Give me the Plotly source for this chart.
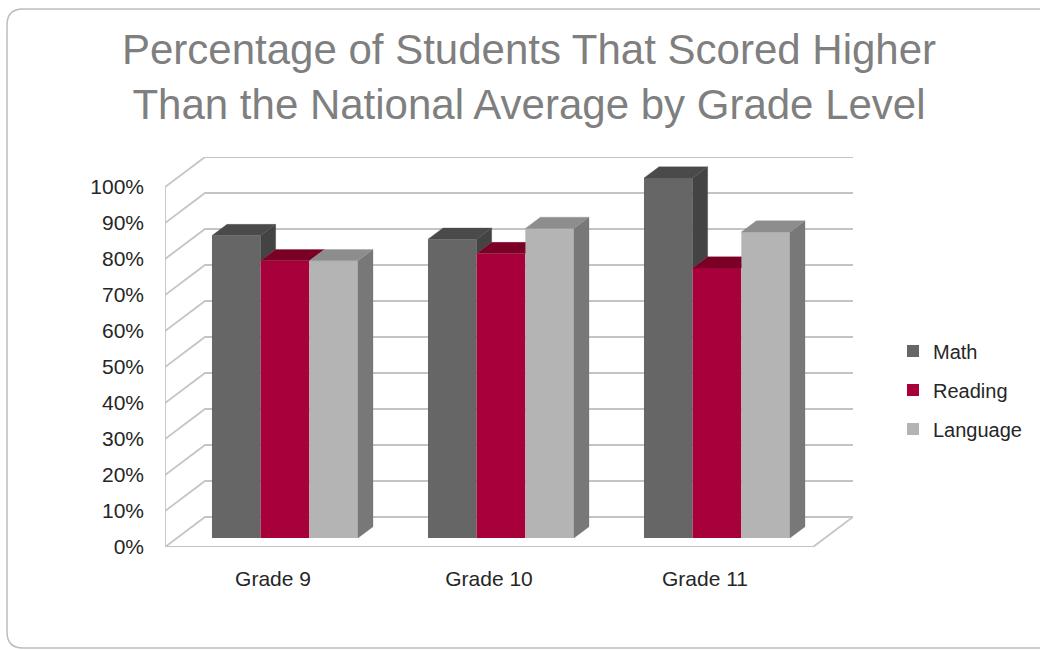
import plotly.graph_objects as go

# ---------------- data ----------------
categories = ["Grade 9", "Grade 10", "Grade 11"]
series_names = ["Math", "Reading", "Language"]
math_vals = [84, 83, 100]
reading_vals = [77, 79, 75]
language_vals = [77, 86, 85]
y_ticks = [0, 10, 20, 30, 40, 50, 60, 70, 80, 90, 100]
y_tick_labels = [f"{v}%" for v in y_ticks]
title_text = "Percentage of Students That Scored Higher<br>Than the National Average by Grade Level"

# ---------------- styles ----------------
front_colors = ["#666666", "#a8003a", "#b4b4b4"]
top_colors = ["#4a4a4a", "#7a0026", "#8d8d8d"]
side_colors = ["#434343", "#68001f", "#787878"]
grid_color = "#c4c4c4"
FONT = "Liberation Sans, Arial, sans-serif"

W, H = 1040, 650
PX_L, PX_B = 165, 547          # front-left / front-bottom corner of the plot box (px)
UNIT_PX = 216                  # px per category
Y_PX = 3.6                     # px per percent
DEPTH_PX = (40, 30)            # back-wall offset in px (right, up)

n = len(categories)
Dx = DEPTH_PX[0] / UNIT_PX
Dy = DEPTH_PX[1] / Y_PX
x_lo, x_hi = -0.5, n - 0.5
y_top = max(y_ticks) + Dy
PX_R = PX_L + (x_hi - x_lo + Dx) * UNIT_PX
PX_T = PX_B - y_top * Y_PX

d0 = 0.3        # depth of bar front faces (fraction of wall depth)
dd = 0.375      # bar thickness in depth
group_frac = 0.676
bw = group_frac / len(series_names)
ddx, ddy = dd * Dx, dd * Dy
base = d0 * Dy

series = [math_vals, reading_vals, language_vals]

fig = go.Figure()

# front faces as real bars
bar_x = []
for k, (name, vals) in enumerate(zip(series_names, series)):
    xs = [i + d0 * Dx + (k - 1) * bw for i in range(n)]
    bar_x.append(xs)
    fig.add_trace(go.Bar(
        x=xs, y=vals, base=[base] * n, width=bw, name=name,
        marker=dict(color=front_colors[k], line=dict(width=0)),
        legendgroup=name,
        hovertemplate=name + ": %{y}%<extra></extra>",
    ))

# side and top faces (3D look), clipped where the neighbouring bar hides them
for i in range(n):
    for k in range(len(series)):
        v = series[k][i]
        xl = bar_x[k][i] - bw / 2
        xr = bar_x[k][i] + bw / 2
        T = base + v
        nxt = series[k + 1][i] if k + 1 < len(series) else None
        # side face
        low = base + (nxt if nxt is not None else 0)
        if low < T:
            sx = [xr, xr, xr + ddx, xr + ddx, xr]
            sy = [low, T, T + ddy, low + ddy, low]
            fig.add_trace(go.Scatter(x=sx, y=sy, mode="lines", fill="toself",
                                     fillcolor=side_colors[k],
                                     line=dict(color=side_colors[k], width=0.3),
                                     showlegend=False, hoverinfo="skip"))
        # top face
        h = 0.0
        if nxt is not None:
            h = min(max(base + nxt - T, 0.0), ddy)
        if h <= 0:
            tx = [xl, xr, xr + ddx, xl + ddx, xl]
            ty = [T, T, T + ddy, T + ddy, T]
        elif h >= ddy:
            tx = [xl, xr, xr, xl + ddx, xl]
            ty = [T, T, T + ddy, T + ddy, T]
        else:
            tx = [xl, xr, xr, xr + h * ddx / ddy, xr + ddx, xl + ddx, xl]
            ty = [T, T, T + h, T + h, T + ddy, T + ddy, T]
        fig.add_trace(go.Scatter(x=tx, y=ty, mode="lines", fill="toself",
                                 fillcolor=top_colors[k],
                                 line=dict(color=top_colors[k], width=0.3),
                                 showlegend=False, hoverinfo="skip"))

# walls / grid / floor
shapes = []
for v in y_ticks:
    path = f"M {x_lo},{v} L {x_lo + Dx},{v + Dy} L {x_hi + Dx},{v + Dy}"
    shapes.append(dict(type="path", path=path, xref="x", yref="y", layer="below",
                       line=dict(color=grid_color, width=1.8)))
shapes.append(dict(type="line", xref="x", yref="y", layer="below",
                   x0=x_lo, y0=0, x1=x_lo, y1=max(y_ticks),
                   line=dict(color=grid_color, width=1.8)))
shapes.append(dict(type="path", xref="x", yref="y", layer="below",
                   path=f"M {x_lo},0 L {x_hi},0 L {x_hi + Dx},{Dy}",
                   line=dict(color=grid_color, width=1.8)))

# card border (rounded rectangle)
def fx(px):
    return px / W


def fy(py):
    return 1 - py / H


L, Tp, R, B, r = 7, 9, 1060, 648, 16
card = (f"M {fx(L)},{fy(Tp + r)} Q {fx(L)},{fy(Tp)} {fx(L + r)},{fy(Tp)} "
        f"L {fx(R - r)},{fy(Tp)} Q {fx(R)},{fy(Tp)} {fx(R)},{fy(Tp + r)} "
        f"L {fx(R)},{fy(B - r)} Q {fx(R)},{fy(B)} {fx(R - r)},{fy(B)} "
        f"L {fx(L + r)},{fy(B)} Q {fx(L)},{fy(B)} {fx(L)},{fy(B - r)} Z")
shapes.append(dict(type="path", xref="paper", yref="paper", path=card, layer="below",
                   line=dict(color="#bdbdbd", width=1.5)))

fig.update_layout(
    width=W, height=H,
    margin=dict(l=0, r=0, t=0, b=0, autoexpand=False),
    paper_bgcolor="white", plot_bgcolor="rgba(0,0,0,0)",
    barmode="overlay",
    font=dict(family=FONT, color="#262626"),
    title=dict(text=title_text, x=529 / W, xanchor="center",
               y=1 - 64 / H, yanchor="middle", yref="container",
               font=dict(family=FONT, size=42, color="#7f7f7f")),
    xaxis=dict(domain=[PX_L / W, PX_R / W], range=[x_lo, x_hi + Dx],
               tickvals=list(range(n)), ticktext=categories,
               showgrid=False, zeroline=False, showline=False, ticks="",
               tickfont=dict(size=21, color="#262626"), ticklabelstandoff=17,
               automargin=False, fixedrange=True),
    yaxis=dict(domain=[1 - PX_B / H, 1 - PX_T / H], range=[0, y_top],
               tickvals=y_ticks, ticktext=y_tick_labels,
               showgrid=False, zeroline=False, showline=False, ticks="",
               tickfont=dict(size=21, color="#262626"), ticklabelstandoff=20,
               automargin=False, fixedrange=True),
    legend=dict(x=893 / W, xanchor="left", y=1 - 390 / H, yanchor="middle",
                font=dict(size=20, color="#262626"), tracegroupgap=10,
                bgcolor="rgba(0,0,0,0)"),
    shapes=shapes,
    showlegend=True,
)

fig.write_html("out.html", config={"displayModeBar": False},
               post_script="document.body.style.margin='0';")
